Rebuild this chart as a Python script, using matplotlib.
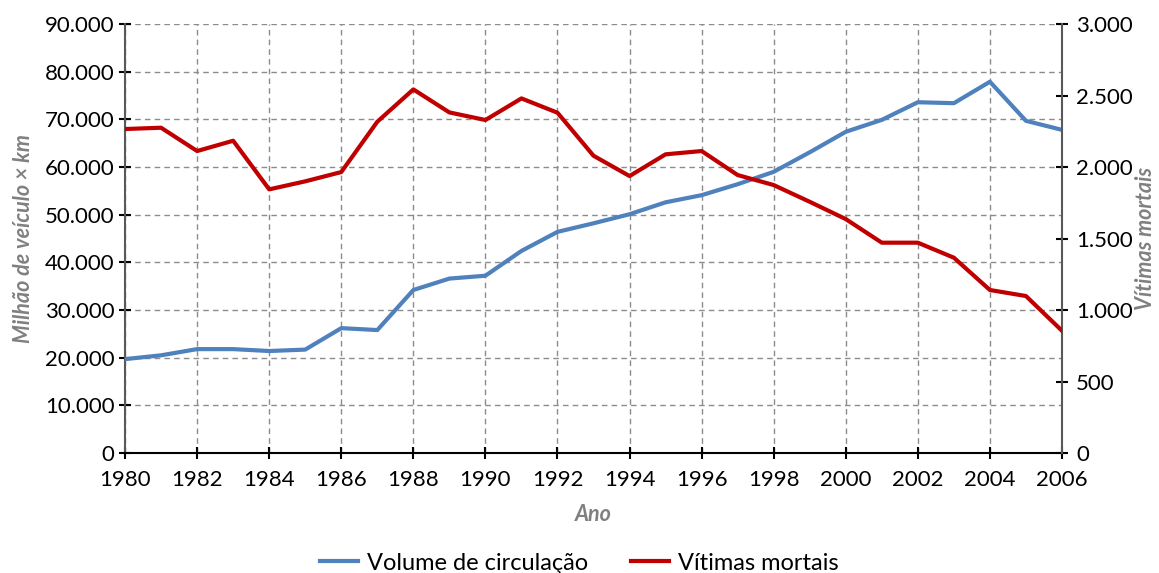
import matplotlib
matplotlib.use("Agg")
from matplotlib import pyplot as plt
from matplotlib.ticker import FuncFormatter, MultipleLocator

# data
anos = list(range(1980, 2007))
volume = [19700, 20500, 21800, 21800, 21400, 21700, 26200, 25800, 34200, 36600,
          37200, 42400, 46400, 48200, 50100, 52600, 54100, 56400, 59000, 63100,
          67400, 69900, 73600, 73400, 77900, 69700, 67800]
vitimas = [2266, 2275, 2112, 2184, 1844, 1900, 1965, 2317, 2543, 2382,
           2329, 2480, 2380, 2079, 1937, 2089, 2112, 1944, 1874, 1757,
           1636, 1471, 1471, 1366, 1140, 1098, 855]

plt.rcParams['font.family'] = ['Lato', 'DejaVu Sans']

def milhares(v, pos):
    return f"{int(round(v)):,}".replace(",", ".")

fig = plt.figure(figsize=(11.59, 5.73), dpi=100)
ax = fig.add_axes([0.1079, 0.2094, 0.8084, 0.7486])
ax2 = ax.twinx()

# blue line on left axis, red on right axis
l1, = ax.plot(anos, volume, color='#4F81BD', lw=3, label='Volume de circulação', zorder=3)
l2, = ax2.plot(anos, vitimas, color='#C00000', lw=3, label='Vítimas mortais', zorder=3)

ax.set_xlim(1980, 2006)
ax.set_ylim(0, 90000)
ax2.set_ylim(0, 3000)
ax.xaxis.set_major_locator(MultipleLocator(2))
ax.yaxis.set_major_locator(MultipleLocator(10000))
ax2.yaxis.set_major_locator(MultipleLocator(500))
ax.yaxis.set_major_formatter(FuncFormatter(milhares))
ax2.yaxis.set_major_formatter(FuncFormatter(milhares))

ax.grid(True, color='#8c8c8c', ls=(0, (4, 3)), lw=1)
ax.set_axisbelow(True)

for a in (ax, ax2):
    a.spines['top'].set_visible(False)
    a.tick_params(labelsize=16, direction='inout', length=8, width=1.5, color='black')
ax2.spines['left'].set_visible(False)
ax2.spines['bottom'].set_visible(False)
ax.spines['right'].set_visible(False)
ax.spines['left'].set_color('#595959')
ax.spines['left'].set_linewidth(1.5)
ax2.spines['right'].set_color('#595959')
ax2.spines['right'].set_linewidth(1.5)
ax.spines['bottom'].set_color('black')
ax.spines['bottom'].set_linewidth(1.5)
ax.tick_params(axis='x', pad=8)
ax2.tick_params(axis='y', pad=6)

lab = dict(color='#808080', fontsize=15.5, fontweight='bold', fontstyle='italic')
ax.set_ylabel('Milhão de veículo × km', labelpad=8, **lab)
ax.set_xlabel('Ano', labelpad=10, **lab)
# right axis title placed by hand so it stays inside the figure
fig.text(1146 / 1159, 0.5834, 'Vítimas mortais', rotation=90,
         ha='center', va='center', **lab)

fig.legend(handles=[l1, l2], loc='center', bbox_to_anchor=(0.5, 0.017),
           ncol=2, frameon=False, fontsize=17, handlelength=1.6,
           handletextpad=0.4, columnspacing=1.8)

fig.savefig('out.png', dpi=100)
